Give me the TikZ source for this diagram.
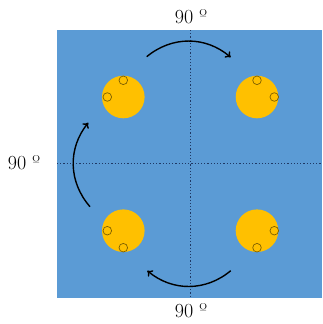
\documentclass[tikz,border=0pt]{standalone}
\usepackage{fontspec}
\usetikzlibrary{arrows.meta}
\definecolor{bg}{HTML}{5B9BD5}
\definecolor{disc}{HTML}{FFC000}
\definecolor{hole}{HTML}{7F6000}
\definecolor{axis}{HTML}{1F3864}
\tikzset{
  disc/.style={circle, fill=disc, inner sep=0pt, minimum size=42.6pt},
  hole/.style={circle, draw=hole, line width=0.7pt, inner sep=0pt, minimum size=8.6pt},
  axisline/.style={axis, dotted, line width=1.2pt},
  rot/.style={-{To[length=5pt,width=8pt]}, line width=1.4pt, black},
  lab/.style={font=\fontsize{20}{22}\selectfont, inner sep=0pt}
}
\begin{document}
\begin{tikzpicture}[x=1pt,y=-1pt]
\useasboundingbox (0,0) rectangle (322,324);
\fill[bg] (57,30) rectangle (322,298);
\coordinate (hl) at (57,163.7);
\coordinate (hr) at (322,163.7);
\coordinate (vt) at (190.7,30);
\coordinate (vb) at (190.7,298);
\draw[axisline] (hl) -- (hr);
\draw[axisline] (vt) -- (vb);
% discs
\node[disc] (d1) at (123.3,97) {};
\node[disc] (d2) at (257,97) {};
\node[disc] (d3) at (123.3,230.7) {};
\node[disc] (d4) at (257,230.7) {};
% holes
\node[hole] (h1a) at (123.3,80.3) {};
\node[hole] (h1b) at (107.3,97) {};
\node[hole] (h2a) at (257,80.3) {};
\node[hole] (h2b) at (274.3,97) {};
\node[hole] (h3a) at (107.3,230.7) {};
\node[hole] (h3b) at (123.3,247.7) {};
\node[hole] (h4a) at (274.3,230.7) {};
\node[hole] (h4b) at (257,247.7) {};
% arrows
\coordinate (a1s) at (146.7,56.7);
\coordinate (a1e) at (230.7,57.3);
\coordinate (a2s) at (90,206.7);
\coordinate (a2e) at (88.3,122.7);
\coordinate (a3s) at (230.7,270.7);
\coordinate (a3e) at (147.3,270.7);
\draw[rot] (a1s) to[bend left=40] (a1e);
\draw[rot] (a2s) to[bend left=40] (a2e);
\draw[rot] (a3s) to[bend left=40] (a3e);
% labels
\node[lab] (lt) at (191,16.5) {90 º};
\node[lab] (lb) at (191,311) {90 º};
\node[lab] (ll) at (24,162.5) {90 º};
\end{tikzpicture}
\end{document}
